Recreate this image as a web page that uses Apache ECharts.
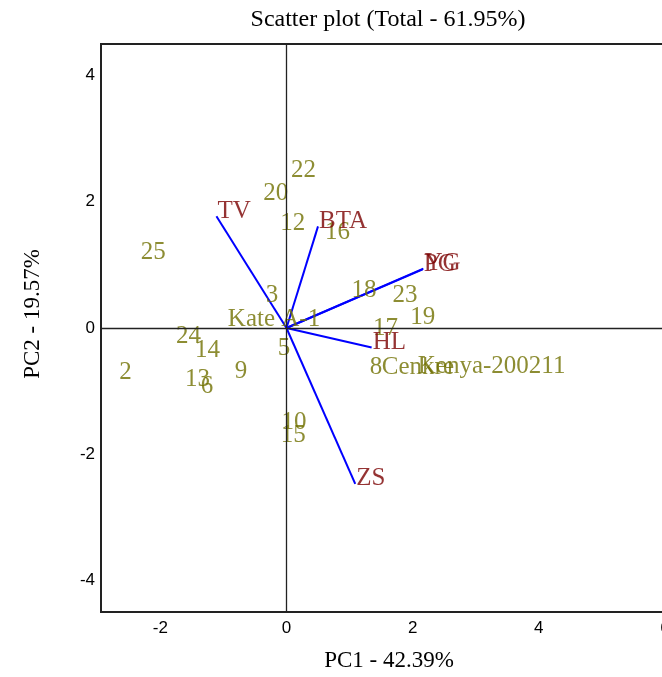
<!DOCTYPE html>
<html>
<head>
<meta charset="utf-8">
<script src="https://cdn.jsdelivr.net/npm/echarts@6/dist/echarts.min.js"></script>
<style>html,body{margin:0;padding:0;background:#fff;}#c{width:662px;height:677px;}</style>
</head>
<body>
<div id="c"></div>
<script>
// Genotype scores (label anchor points)
var genoNames = ['22','20','12','16','25','3','Kate A-1','24','14','2','13','6','9','5','10','15','18','23','19','17','8','Cenkre','Kenya-200211'];
var genoX = [0.07,-0.37,-0.10,0.61,-2.31,-0.33,-0.93,-1.75,-1.45,-2.65,-1.61,-1.36,-0.82,-0.14,-0.08,-0.09,1.03,1.68,1.96,1.37,1.32,1.51,2.08];
var genoY = [2.49,2.14,1.66,1.52,1.20,0.52,0.13,-0.14,-0.35,-0.71,-0.82,-0.93,-0.69,-0.33,-1.49,-1.71,0.60,0.52,0.16,0.00,-0.63,-0.63,-0.61];
// Trait vectors
var varNames = ['TV','BTA','PG','YG','HL','ZS'];
var varX = [-1.11,0.50,2.16,2.17,1.35,1.09];
var varY = [1.77,1.61,0.93,0.94,-0.31,-2.47];
// Tick labels
var xTicks = [-2,0,2,4,6];
var yTicks = [-4,-2,0,2,4];

var serif = "'Liberation Serif','Times New Roman',serif";
var sans = "'Liberation Sans',Arial,sans-serif";

var genoData = genoNames.map(function(n,i){return {name:n, value:[genoX[i],genoY[i]]};});
var varData = varNames.map(function(n,i){return {name:n, value:[varX[i],varY[i]]};});
var vecData = varNames.map(function(n,i){return {coords:[[0,0],[varX[i],varY[i]]]};});

var chart = echarts.init(document.getElementById('c'), null, {renderer:'canvas'});
chart.setOption({
  animation:false,
  title:{text:'Scatter plot (Total - 61.95%)', left:383, top:3, textAlign:'center',
    textStyle:{fontFamily:serif, fontSize:24, fontWeight:'normal', color:'#000'}},
  grid:{left:101, right:-3, top:44, bottom:65, containLabel:false, outerBoundsMode:'none',
    show:true, borderColor:'#222', borderWidth:2, backgroundColor:'transparent'},
  xAxis:{type:'value', min:-2.94, max:6, splitLine:{show:false}, axisTick:{show:false},
    axisLine:{show:false},
    axisLabel:{customValues:xTicks, fontFamily:sans, fontSize:17, color:'#000', margin:8},
    name:'PC1 - 42.39%', nameLocation:'middle', nameGap:37,
    nameTextStyle:{fontFamily:serif, fontSize:23, color:'#000', padding:[0,0,0,12]}},
  yAxis:{type:'value', min:-4.5, max:4.5, splitLine:{show:false}, axisTick:{show:false},
    axisLine:{show:false},
    axisLabel:{customValues:yTicks, fontFamily:sans, fontSize:17, color:'#000', margin:6},
    name:'PC2 - 19.57%', nameLocation:'middle', nameGap:57,
    nameTextStyle:{fontFamily:serif, fontSize:23, color:'#000', padding:[0,0,0,28]}},
  series:[
    {type:'scatter', data:[], silent:true,
     markLine:{silent:true, symbol:'none', label:{show:false},
       lineStyle:{color:'#222', width:1.3, type:'solid'},
       data:[{xAxis:0},{yAxis:0}]}},
    {type:'lines', coordinateSystem:'cartesian2d', silent:true, data:vecData,
     lineStyle:{color:'#0000ff', width:2, opacity:1}, z:3},
    {type:'scatter', data:genoData, symbolSize:0.1, itemStyle:{color:'transparent'}, silent:true, z:4,
     label:{show:true, position:'right', distance:0, formatter:'{b}',
       fontFamily:serif, fontSize:25, color:'#707000'}},
    {type:'scatter', data:varData, symbolSize:0.1, itemStyle:{color:'transparent'}, silent:true, z:5,
     label:{show:true, position:'right', distance:0, offset:[1,-5], formatter:'{b}',
       fontFamily:serif, fontSize:25, color:'#7a0000'}}
  ]
});
</script>
</body>
</html>
